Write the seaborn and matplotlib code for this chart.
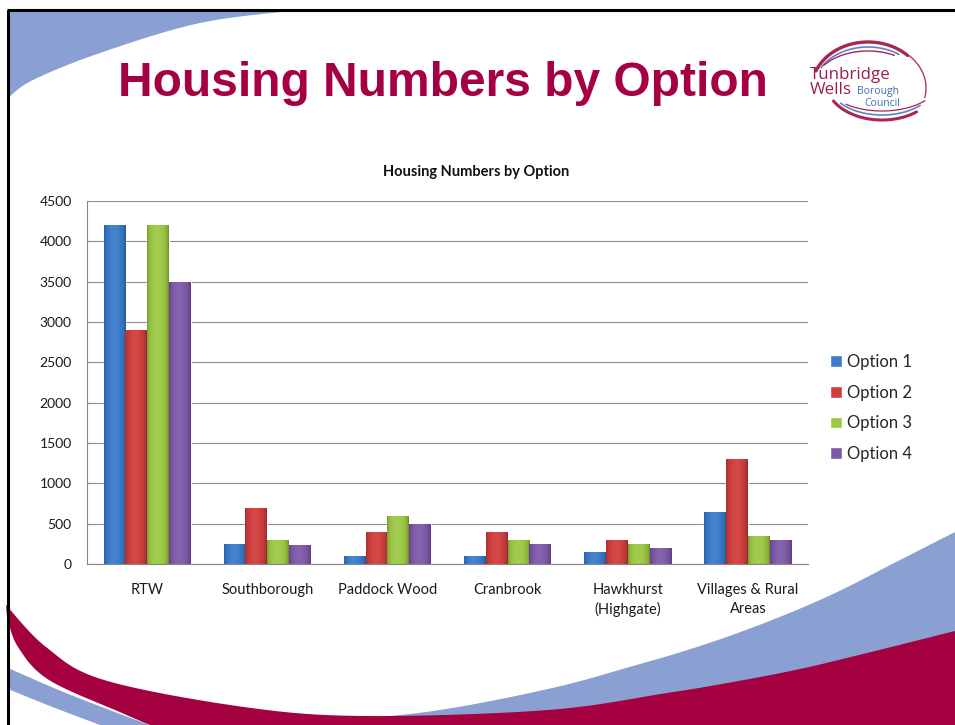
import numpy as np
import pandas as pd
import matplotlib
matplotlib.use("Agg")
import matplotlib.pyplot as plt
import matplotlib.colors as mcolors
import seaborn as sns
from matplotlib.patches import Polygon

# ---------------- data ----------------
areas = ["RTW", "Southborough", "Paddock Wood", "Cranbrook",
         "Hawkhurst\n(Highgate)", "Villages & Rural\nAreas"]
options = ["Option 1", "Option 2", "Option 3", "Option 4"]
option1 = [4200, 250, 100, 100, 150, 650]
option2 = [2900, 700, 400, 400, 300, 1300]
option3 = [4200, 300, 600, 300, 250, 350]
option4 = [3500, 240, 500, 250, 200, 300]
yticks = [0, 500, 1000, 1500, 2000, 2500, 3000, 3500, 4000, 4500]

values = option1 + option2 + option3 + option4
df = pd.DataFrame({
    "Area": areas * len(options),
    "Option": [o for o in options for _ in areas],
    "Homes": values,
})

colors = ["#3A7BCB", "#D03D3D", "#9CC744", "#7E59A8"]

sns.set_style("white")
plt.rcParams["font.family"] = ["Lato", "DejaVu Sans"]

fig = plt.figure(figsize=(9.55, 7.25), dpi=100)

# ---------------- slide decoration (pixel coords) ----------------
bg = fig.add_axes([0, 0, 1, 1], zorder=0)
bg.set_xlim(0, 955)
bg.set_ylim(725, 0)
bg.axis("off")


def smooth(pts, n=24):
    pts = np.asarray(pts, float)
    P = np.vstack([pts[0], pts, pts[-1]])
    out = []
    t = np.linspace(0, 1, n, endpoint=False)[:, None]
    for i in range(1, len(P) - 2):
        p0, p1, p2, p3 = P[i - 1], P[i], P[i + 1], P[i + 2]
        out.append(0.5 * ((2 * p1) + (-p0 + p2) * t
                          + (2 * p0 - 5 * p1 + 4 * p2 - p3) * t ** 2
                          + (-p0 + 3 * p1 - 3 * p2 + p3) * t ** 3))
    out.append(P[-2][None])
    return np.vstack(out)


blue_deco = "#8AA0D2"
red_deco = "#A50040"

tl = smooth([(300, 10), (200, 23), (100, 53), (33, 80), (8, 98)])
bg.add_patch(Polygon(np.vstack([tl, [(8, 10)]]), closed=True,
                     facecolor=blue_deco, edgecolor="none"))

br_up = smooth([(250, 725), (305, 722), (426, 712), (548, 689), (633, 666),
                (700, 646), (767, 622), (833, 594), (900, 560), (955, 532)])
bg.add_patch(Polygon(np.vstack([br_up, [(955, 725)]]), closed=True,
                     facecolor=blue_deco, edgecolor="none"))

bl_up = smooth([(8, 668), (61, 691), (120, 714), (150, 725)])
bl_lo = smooth([(100, 725), (50, 706), (8, 689)])
bg.add_patch(Polygon(np.vstack([bl_up, bl_lo]), closed=True,
                     facecolor=blue_deco, edgecolor="none"))

red_up = smooth([(6, 605), (46, 647), (104, 680), (244, 707), (365, 716),
                 (548, 710), (667, 693), (733, 682), (800, 669), (867, 653),
                 (955, 631)])
red_lo = smooth([(150, 725), (122, 713), (49, 680), (18, 647), (7, 617)])
bg.add_patch(Polygon(np.vstack([red_up, [(955, 725)], red_lo]), closed=True,
                     facecolor=red_deco, edgecolor="none"))

bg.plot([8, 8], [10, 725], color="black", lw=2.2, solid_capstyle="butt")
bg.plot([7, 955], [10, 10], color="black", lw=2.2, solid_capstyle="butt")


def arc(cx, cy, rx, ry, a0, a1, color, lw):
    a = np.radians(np.linspace(a0, a1, 80))
    bg.plot(cx + rx * np.cos(a), cy - ry * np.sin(a), color=color, lw=lw,
            solid_capstyle="round")


arc(868, 88, 56, 46, 45, 158, "#A8264F", 2.4)
arc(868, 88, 54, 41, 55, 150, "#5C84C4", 1.2)
arc(868, 88, 56, 37, 62, 142, "#A8264F", 1.0)
arc(868, 88, 58, 46, -12, 45, "#A8264F", 0.9)
arc(882, 82, 56, 38, -150, -52, "#A8264F", 2.2)
arc(882, 82, 54, 33, -140, -45, "#5C84C4", 1.2)
arc(882, 82, 56, 29, -130, -40, "#A8264F", 0.9)
logo_font = ["Open Sans", "DejaVu Sans"]
bg.text(810, 79, "Tunbridge", color="#9B1F4E", fontsize=12.2,
        family=logo_font, va="baseline", ha="left")
bg.text(810, 94, "Wells", color="#9B1F4E", fontsize=12.2,
        family=logo_font, va="baseline", ha="left")
bg.text(857, 94, "Borough", color="#3F6FB0", fontsize=7.5,
        family=logo_font, va="baseline", ha="left")
bg.text(864, 106, "Council", color="#3F6FB0", fontsize=7.5,
        family=logo_font, va="baseline", ha="left")

fig.text(443 / 955, 1 - 96 / 725, "Housing Numbers by Option",
         ha="center", va="baseline", fontsize=34.5, weight="bold",
         color="#A50044", family=["Liberation Sans", "DejaVu Sans"])

# ---------------- chart ----------------
ax = fig.add_axes([87 / 955, 1 - 564 / 725, (808 - 87) / 955, (564 - 201) / 725],
                  zorder=2)
ax.set_facecolor("none")
sns.barplot(data=df, x="Area", y="Homes", hue="Option", order=areas,
            hue_order=options, palette=colors, saturation=1, width=0.725,
            errorbar=None, ax=ax)

ax.set_axisbelow(True)
ax.yaxis.grid(True, color="#8C8C8C", lw=0.8)
ax.set_ylim(0, 4500)
ax.set_yticks(yticks)
ax.set_xlim(-0.5, len(areas) - 0.5)

# bevel-like shading across each bar (clipped to the seaborn bar patches)
xs = np.linspace(0, 1, 64)
shade = 0.72 + 0.36 * np.sin(np.pi * xs) ** 0.45 - 0.06 * xs
for cont, col in zip(ax.containers, colors):
    rgb = np.array(mcolors.to_rgb(col))
    img = np.empty((1, len(xs), 3))
    for k, f in enumerate(shade):
        if f <= 1:
            img[0, k] = rgb * f
        else:
            img[0, k] = rgb + (1 - rgb) * (f - 1) * 1.2
    img = np.clip(img, 0, 1)
    for p in cont:
        x0, w, h = p.get_x(), p.get_width(), p.get_height()
        im = ax.imshow(img, extent=[x0, x0 + w, 0, h], aspect="auto",
                       interpolation="bilinear", zorder=p.get_zorder() + 0.1)
        im.set_clip_path(p)

ax.set_ylim(0, 4500)
ax.set_xlim(-0.5, len(areas) - 0.5)
ax.set_aspect("auto")
ax.set_xlabel("")
ax.set_ylabel("")
for s in ["top", "right"]:
    ax.spines[s].set_visible(False)
for s in ["left", "bottom"]:
    ax.spines[s].set_color("#868686")
    ax.spines[s].set_linewidth(0.8)
ax.tick_params(axis="y", length=0, pad=11, labelsize=10, labelcolor="#1a1a1a")
ax.tick_params(axis="x", length=0, pad=14, labelsize=10.5, labelcolor="#1a1a1a")
for lab in ax.get_xticklabels():
    lab.set_linespacing(1.4)
    lab.set_verticalalignment("top")

handles, labels = ax.get_legend_handles_labels()
if ax.legend_ is not None:
    ax.legend_.remove()
ax.legend(handles, labels, loc="center left",
          bbox_to_anchor=(822 / 955, 1 - 408 / 725),
          bbox_transform=fig.transFigure, frameon=False, fontsize=12,
          handlelength=0.7, handleheight=0.7, handletextpad=0.3,
          labelspacing=0.88, borderpad=0)

fig.text(476 / 955, 1 - 172 / 725, "Housing Numbers by Option",
         ha="center", va="center", fontsize=10.5, weight="bold",
         color="#111111")

fig.savefig("out.png", dpi=100)
